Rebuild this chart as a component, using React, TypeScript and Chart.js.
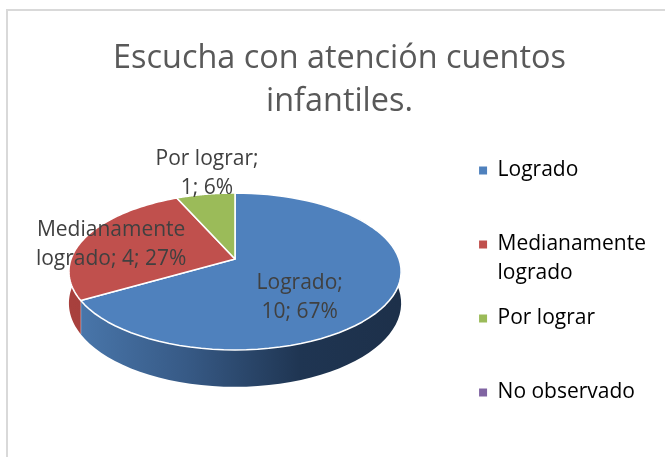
import React, { useEffect, useRef } from "react";
import { Chart, registerables } from "chart.js";

Chart.register(...registerables);

const titleLines = ["Escucha con atención cuentos", "infantiles."];
const categories = ["Logrado", "Medianamente logrado", "Por lograr", "No observado"];
const legendLines = [["Logrado", ""], ["Medianamente", "logrado"], ["Por lograr", ""], ["No observado", ""]];
const values = [10, 4, 1, 0];
const labelLines = [["Logrado;", "10; 67%"], ["Medianamente", "logrado; 4; 27%"], ["Por lograr;", "1; 6%"], []];
const colors = ["#4f81bd", "#c0504d", "#9bbb59", "#8064a2"];

const FONT = "'Open Sans', 'Noto Sans', sans-serif";
const view = { shift: -8, lift: 41.5, radius: 164, persp: -0.159, vert: 76.5, depth: 31 };
const labelPlace = [
  { f: 0.55, dx: -17, dy: 17 },
  { f: 0.6, dx: -33, dy: -0.5 },
  { f: 1, dx: 1.5, dy: -21 },
  { f: 1, dx: 0, dy: 0 },
];

function project(el: any, angle: number, f = 1) {
  const u = Math.cos(angle) * f;
  const v = Math.sin(angle) * f;
  const w = 1 + view.persp * v;
  return {
    x: el.x + view.shift + (view.radius * u) / w,
    y: el.y - view.lift + (view.vert * v) / w,
    w,
  };
}

function samples(el: any) {
  const n = 72;
  const pts = [];
  for (let i = 0; i <= n; i++) {
    pts.push(project(el, el.startAngle + ((el.endAngle - el.startAngle) * i) / n));
  }
  return pts;
}

const pie3d = {
  id: "pie3d",
  beforeDatasetsDraw(chart: any) {
    const { ctx } = chart;
    const arcs = chart.getDatasetMeta(0).data;
    ctx.save();
    arcs.forEach((el: any, i: number) => {
      if (!values[i]) return;
      const pts = samples(el);
      const cx = el.x + view.shift;
      const g = ctx.createLinearGradient(cx - view.radius, 0, cx + view.radius, 0);
      if (i === 0) {
        g.addColorStop(0, "#4a78ad");
        g.addColorStop(0.35, "#375a86");
        g.addColorStop(0.7, "#1f3552");
        g.addColorStop(1, "#1d304a");
      } else {
        g.addColorStop(0, "#a8403d");
        g.addColorStop(1, "#7a2e2c");
      }
      ctx.beginPath();
      pts.forEach((p: any, k: number) => (k ? ctx.lineTo(p.x, p.y) : ctx.moveTo(p.x, p.y)));
      for (let k = pts.length - 1; k >= 0; k--) {
        ctx.lineTo(pts[k].x, pts[k].y + view.depth / pts[k].w);
      }
      ctx.closePath();
      ctx.fillStyle = g;
      ctx.fill();
      ctx.strokeStyle = "rgba(255,255,255,0.7)";
      ctx.lineWidth = 0.8;
      const last = pts[pts.length - 1];
      ctx.beginPath();
      ctx.moveTo(last.x, last.y);
      ctx.lineTo(last.x, last.y + view.depth / last.w);
      ctx.stroke();
    });
    arcs.forEach((el: any, i: number) => {
      if (!values[i]) return;
      const apex = project(el, el.startAngle, 0);
      ctx.beginPath();
      ctx.moveTo(apex.x, apex.y);
      samples(el).forEach((p: any) => ctx.lineTo(p.x, p.y));
      ctx.closePath();
      ctx.fillStyle = colors[i];
      ctx.fill();
      ctx.strokeStyle = "#ffffff";
      ctx.lineWidth = 1.6;
      ctx.lineJoin = "round";
      ctx.stroke();
    });
    ctx.restore();
  },
  beforeDatasetDraw() {
    return false;
  },
  afterDatasetsDraw(chart: any) {
    const { ctx } = chart;
    const arcs = chart.getDatasetMeta(0).data;
    ctx.save();
    ctx.font = `21px ${FONT}`;
    ctx.fillStyle = "#404040";
    ctx.textAlign = "center";
    ctx.textBaseline = "middle";
    arcs.forEach((el: any, i: number) => {
      if (!values[i]) return;
      const place = labelPlace[i];
      const p = project(el, (el.startAngle + el.endAngle) / 2, place.f);
      labelLines[i].forEach((line, k) => {
        ctx.fillText(line, p.x + place.dx, p.y + place.dy + (k - 0.5) * 29);
      });
    });
    ctx.restore();
  },
};

export default function App() {
  const ref = useRef<HTMLCanvasElement>(null);
  useEffect(() => {
    const chart = new Chart(ref.current as HTMLCanvasElement, {
      type: "pie",
      data: {
        labels: categories,
        datasets: [{ data: values, backgroundColor: colors, borderWidth: 0, hoverOffset: 0 }],
      },
      plugins: [pie3d],
      options: {
        animation: false,
        responsive: false,
        layout: { padding: 0 },
        plugins: {
          tooltip: { enabled: false },
          title: {
            display: true,
            text: titleLines,
            color: "#595959",
            font: { family: FONT, size: 32.4, weight: "normal", lineHeight: 43 / 32.4 },
            padding: { top: 27.5, bottom: 20.5 },
          },
          legend: {
            display: true,
            fullSize: false,
            position: "right",
            align: "start",
            labels: {
              color: "#595959",
              font: { family: FONT, size: 21, lineHeight: 29 / 21 },
              boxWidth: 8,
              boxHeight: 8,
              padding: 16,
              usePointStyle: true,
              generateLabels: () =>
                legendLines.map((text, i) => ({
                  text,
                  fillStyle: colors[i],
                  strokeStyle: colors[i],
                  lineWidth: 0,
                  pointStyle: "rect",
                  hidden: false,
                  index: i,
                })),
            },
          },
        },
      } as any,
    });
    return () => chart.destroy();
  }, []);
  return (
    <div style={{ position: "absolute", left: 0, top: 0, width: 665, height: 457, overflow: "hidden", background: "#fff" }}>
      <div style={{ position: "absolute", left: 6, top: 9, width: 800, height: 700, border: "2px solid #d9d9d9" }} />
      <canvas ref={ref} width={633} height={447} style={{ position: "absolute", left: 23, top: 10, width: 633, height: 447 }} />
    </div>
  );
}
